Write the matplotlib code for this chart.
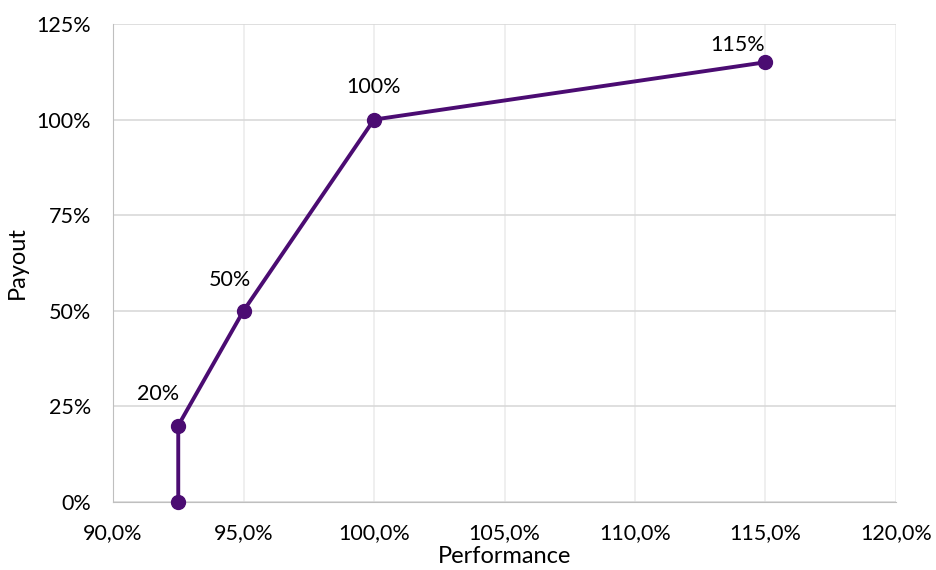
import matplotlib.pyplot as plt
from matplotlib.ticker import FuncFormatter

# Payout curve data
performance = [92.5, 92.5, 95.0, 100.0, 115.0]
payout = [0, 20, 50, 100, 115]
point_labels = ["", "20%", "50%", "100%", "115%"]

x_ticks = [90, 95, 100, 105, 110, 115, 120]
y_ticks = [0, 25, 50, 75, 100, 125]

line_color = "#4b0c72"
# label offsets in pixels (dx, dy)
label_offsets = [(0, 0), (-20, 32), (-14, 31), (0, 33), (-28, 17)]

plt.rcParams['font.family'] = ['Lato', 'DejaVu Sans']

fig = plt.figure(figsize=(9.36, 5.70), dpi=100)
ax = fig.add_axes([113 / 936, (570 - 502) / 570, (896 - 113) / 936, (502 - 24) / 570])

ax.set_xlim(90, 120)
ax.set_ylim(0, 125)
ax.set_xticks(x_ticks)
ax.set_yticks(y_ticks)
ax.xaxis.set_major_formatter(FuncFormatter(lambda v, p: f"{v:.1f}%".replace(".", ",")))
ax.yaxis.set_major_formatter(FuncFormatter(lambda v, p: f"{v:.0f}%"))

# Gridlines: horizontal darker, vertical lighter
ax.set_axisbelow(True)
ax.yaxis.grid(True, color="#d9d9d9", linewidth=1.2)
ax.xaxis.grid(True, color="#ececec", linewidth=1.2)

for side in ["top", "right"]:
    ax.spines[side].set_visible(False)
ax.spines["left"].set_color("#bfbfbf")
ax.spines["bottom"].set_color("#bfbfbf")
ax.tick_params(length=0, labelsize=15.5)
ax.tick_params(axis="x", pad=15)
ax.tick_params(axis="y", pad=16)

ax.plot(performance, payout, color=line_color, linewidth=2.8, marker="o",
        markersize=10, clip_on=False, zorder=3)

for x, y, lab, off in zip(performance, payout, point_labels, label_offsets):
    if lab:
        ax.annotate(lab, (x, y), xytext=(off[0] * 0.72, off[1] * 0.72),
                    textcoords="offset points", ha="center", va="center",
                    fontsize=15.5)

ax.set_xlabel("Performance", fontsize=17, labelpad=2)
ax.set_ylabel("Payout", fontsize=17, labelpad=6)

fig.savefig("out.png", dpi=100)
